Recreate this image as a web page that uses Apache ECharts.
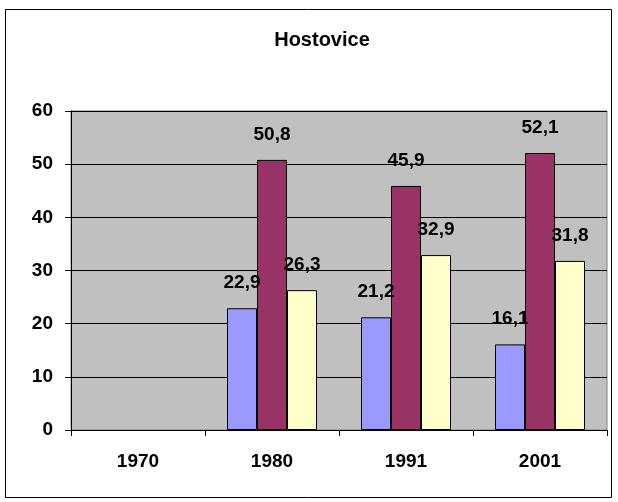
<!DOCTYPE html>
<html>
<head>
<meta charset="utf-8">
<script src="https://cdn.jsdelivr.net/npm/echarts@6/dist/echarts.min.js"></script>
<style>
html,body{margin:0;padding:0;background:#fff;}
#c{width:618px;height:502px;}
</style>
</head>
<body>
<div id="c"></div>
<script>
var titleText = 'Hostovice';
var categories = ['1970', '1980', '1991', '2001'];
var series1 = [null, 22.9, 21.2, 16.1];
var series2 = [null, 50.8, 45.9, 52.1];
var series3 = [null, 26.3, 32.9, 31.8];
var yTicks = [0, 10, 20, 30, 40, 50, 60];

var FONT = '"Liberation Sans", Arial, sans-serif';
var colors = ['#9999FF', '#993366', '#FFFFCC'];

function mkSeries(data, color) {
  return {
    type: 'bar',
    data: data,
    barWidth: 30,
    barGap: '0%',
    itemStyle: { color: color, borderColor: '#000', borderWidth: 1 },
    label: {
      show: true,
      position: 'top',
      distance: 16,
      color: '#000',
      fontFamily: FONT,
      fontWeight: 'bold',
      fontSize: 19,
      formatter: function (p) { return p.value == null ? '' : String(p.value).replace('.', ','); }
    },
    animation: false
  };
}

var chart = echarts.init(document.getElementById('c'), null, { renderer: 'canvas' });
chart.setOption({
  backgroundColor: '#fff',
  animation: false,
  title: {
    text: titleText,
    left: 317,
    top: 25,
    textAlign: 'center',
    textStyle: { fontFamily: FONT, fontWeight: 'bold', fontSize: 20, color: '#000' }
  },
  graphic: [{
    type: 'rect',
    shape: { x: 5.5, y: 9.5, width: 606, height: 488 },
    style: { fill: 'none', stroke: '#000', lineWidth: 1 },
    silent: true,
    z: -10
  }],
  grid: {
    left: 71, right: 11, top: 111, bottom: 72,
    show: true, backgroundColor: '#C0C0C0', borderColor: '#808080', borderWidth: 1
  },
  xAxis: {
    type: 'category',
    data: categories,
    axisLine: { lineStyle: { color: '#000', width: 1 } },
    axisTick: { show: true, alignWithLabel: false, length: 6, lineStyle: { color: '#000' } },
    axisLabel: { color: '#000', fontFamily: FONT, fontWeight: 'bold', fontSize: 19, margin: 22 }
  },
  yAxis: {
    type: 'value',
    min: yTicks[0],
    max: yTicks[yTicks.length - 1],
    interval: 10,
    axisLine: { show: true, lineStyle: { color: '#000', width: 1 } },
    axisTick: { show: true, length: 6, lineStyle: { color: '#000' } },
    splitLine: { show: true, lineStyle: { color: '#000', width: 1 } },
    axisLabel: { color: '#000', fontFamily: FONT, fontWeight: 'bold', fontSize: 19, margin: 18 }
  },
  series: [
    mkSeries(series1, colors[0]),
    mkSeries(series2, colors[1]),
    mkSeries(series3, colors[2])
  ]
});
</script>
</body>
</html>
